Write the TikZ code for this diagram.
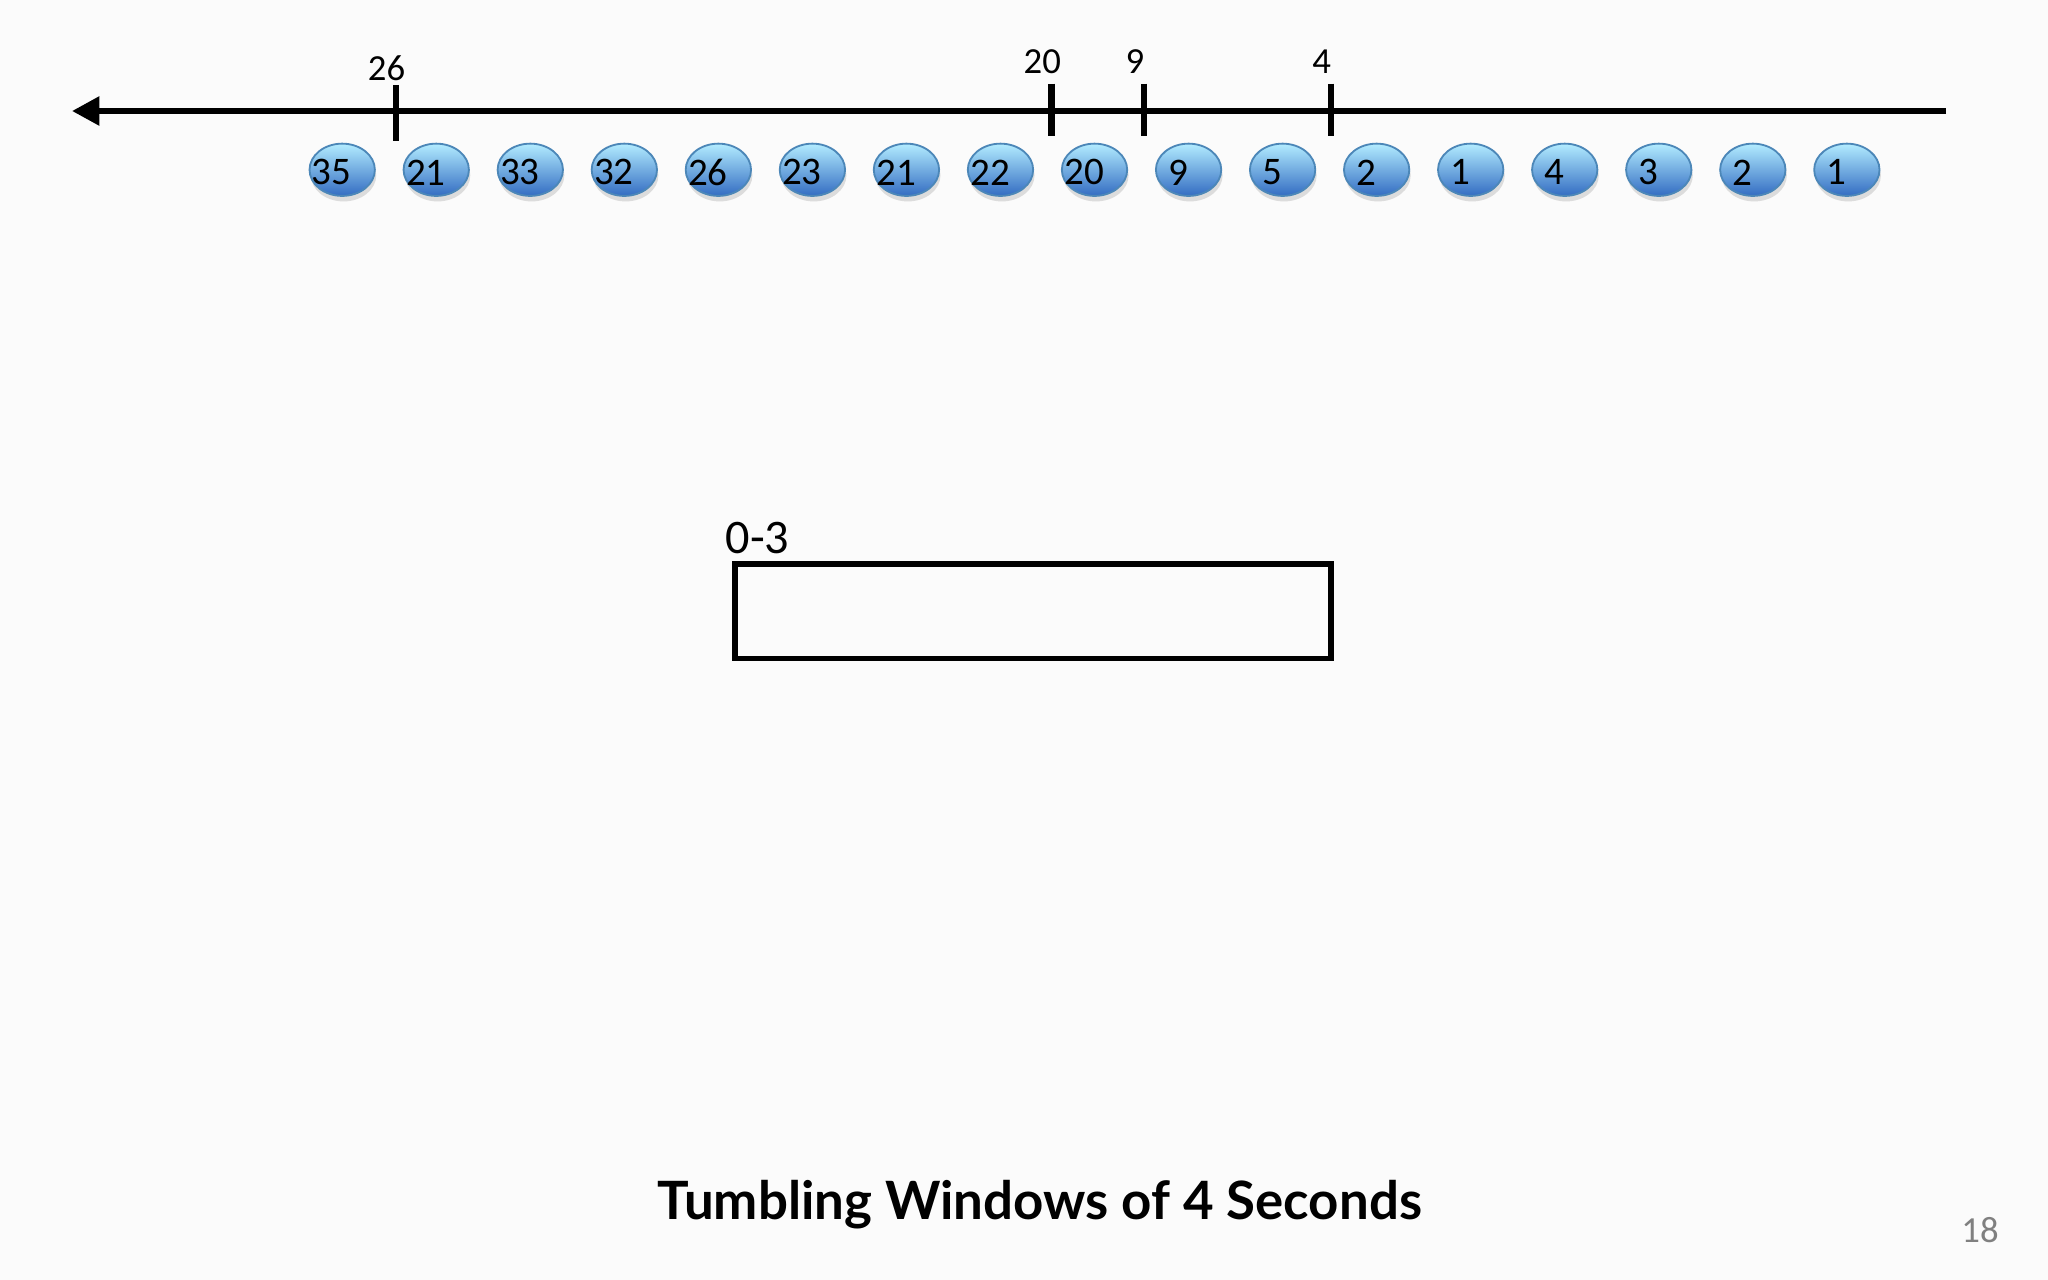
\documentclass[tikz,border=0pt]{standalone}
\usepackage{fontspec}
\setmainfont{Carlito}
\newfontfamily\titlefont{Lato}
\usetikzlibrary{arrows.meta,shadows,shapes.geometric}
\begin{document}
\begin{tikzpicture}[x=0.01cm,y=-0.01cm,
  bub/.style={ellipse,minimum width=0.5cm,minimum height=0.4cm,inner sep=0,draw=blue!45!cyan!60!black!70,line width=0.4pt,
    top color=blue!25!cyan!30!white,bottom color=blue!60!cyan!70!black!80,shading angle=0,drop shadow={opacity=0.25,shadow xshift=0.3pt,shadow yshift=-1.2pt}},
  lbl/.style={font=\fontsize{8pt}{9pt}\selectfont},
  tick/.style={line width=1.4pt}]
\useasboundingbox (0,0) rectangle (1568,980);
\fill[white!97!gray] (0,0) rectangle (1568,980);
\coordinate (L) at (55,85); \coordinate (R) at (1490,85);
\draw[line width=1.5pt,-{Triangle[length=6pt,width=6pt]}] (R) -- (L);
\foreach \x/\t/\ya/\yb/\yl in {303/26/65/108/52,805/20/64/104/47,876/9/64/104/47,1019/4/64/104/47}{
  \draw[tick] (\x,\ya) -- (\x,\yb);
  \node[lbl] (t\t) at (\x-7,\yl) {\t};
}
\foreach \v [count=\i] in {35,21,33,32,26,23,21,22,20,9,5,2,1,4,3,2,1}{
  \node[bub] (b\i) at (190+72*\i,130) {};
  \node[font=\fontsize{8.5pt}{9pt}\selectfont] (v\i) at (182+72*\i,132) {\v};
}
\node[draw,line width=1.2pt,minimum width=4.56cm,minimum height=0.72cm,inner sep=0] (win) at (791,468) {};
\node[font=\fontsize{10.5pt}{12pt}\selectfont] (wl) at (580,412) {0-3};
\node[font=\titlefont\bfseries\fontsize{11.5pt}{13pt}\selectfont] (title) at (796,922) {Tumbling Windows of 4 Seconds};
\node[font=\fontsize{8pt}{9pt}\selectfont,text=gray] (pg) at (1516,942) {18};
\end{tikzpicture}
\end{document}
